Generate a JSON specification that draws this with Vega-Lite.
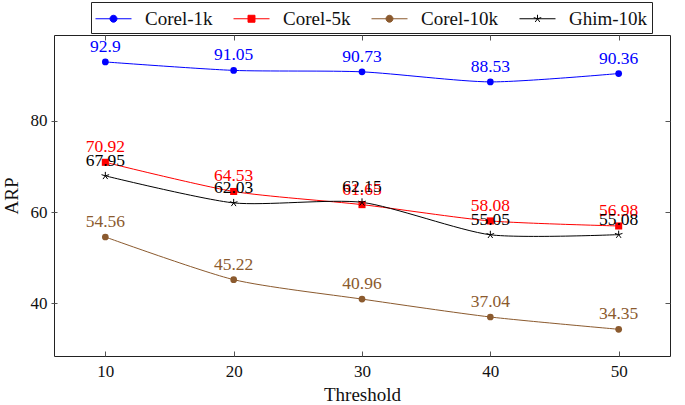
{
  "$schema": "https://vega.github.io/schema/vega-lite/v6.json",
  "width": 616,
  "height": 321,
  "autosize": "none",
  "padding": {"left": 54, "top": 35, "right": 15, "bottom": 49},
  "background": "white",
  "config": {
    "view": {"stroke": "#222", "strokeWidth": 1},
    "font": "Liberation Serif",
    "text": {"font": "Liberation Serif"},
    "legend": {"labelFont": "Liberation Serif"},
    "axis": {"labelFont": "Liberation Serif", "titleFont": "Liberation Serif", "labelFontSize": 17, "titleFontSize": 19, "titleFontWeight": "normal", "labelColor": "#111", "titleColor": "#111", "grid": false, "domain": false, "tickColor": "#555", "tickWidth": 1}
  },
  "data": {
    "values": [
      {"threshold": 10, "series": "Corel-1k", "arp": 92.9},
      {"threshold": 20, "series": "Corel-1k", "arp": 91.05},
      {"threshold": 30, "series": "Corel-1k", "arp": 90.73},
      {"threshold": 40, "series": "Corel-1k", "arp": 88.53},
      {"threshold": 50, "series": "Corel-1k", "arp": 90.36},
      {"threshold": 10, "series": "Corel-5k", "arp": 70.92},
      {"threshold": 20, "series": "Corel-5k", "arp": 64.53},
      {"threshold": 30, "series": "Corel-5k", "arp": 61.65},
      {"threshold": 40, "series": "Corel-5k", "arp": 58.08},
      {"threshold": 50, "series": "Corel-5k", "arp": 56.98},
      {"threshold": 10, "series": "Corel-10k", "arp": 54.56},
      {"threshold": 20, "series": "Corel-10k", "arp": 45.22},
      {"threshold": 30, "series": "Corel-10k", "arp": 40.96},
      {"threshold": 40, "series": "Corel-10k", "arp": 37.04},
      {"threshold": 50, "series": "Corel-10k", "arp": 34.35},
      {"threshold": 10, "series": "Ghim-10k", "arp": 67.95},
      {"threshold": 20, "series": "Ghim-10k", "arp": 62.03},
      {"threshold": 30, "series": "Ghim-10k", "arp": 62.15},
      {"threshold": 40, "series": "Ghim-10k", "arp": 55.05},
      {"threshold": 50, "series": "Ghim-10k", "arp": 55.08}
    ]
  },
  "resolve": {"axis": {"x": "independent", "y": "independent"}},
  "layer": [
    {
      "mark": {"type": "line", "interpolate": "cardinal", "tension": 0.3, "strokeWidth": 1},
      "encoding": {
        "x": {"field": "threshold", "type": "quantitative", "scale": {"domain": [6, 54], "nice": false, "zero": false},
              "axis": {"orient": "bottom", "title": "Threshold", "values": [10, 20, 30, 40, 50], "tickSize": -5, "labelPadding": 12, "titlePadding": 6}},
        "y": {"field": "arp", "type": "quantitative", "scale": {"domain": [28.5, 98.8], "nice": false, "zero": false},
              "axis": {"orient": "left", "title": "ARP", "values": [40, 60, 80], "tickSize": 3, "labelPadding": 4, "titlePadding": 9}},
        "color": {"field": "series", "type": "nominal",
                  "scale": {"domain": ["Corel-1k", "Corel-5k", "Corel-10k", "Ghim-10k"], "range": ["#0000ff", "#ff0000", "#8b5a2e", "#000000"]},
                  "legend": {"title": null, "orient": "none", "legendX": 37, "legendY": -33, "direction": "horizontal", "columns": 4,
                             "strokeColor": "#222", "padding": 4, "fillColor": "white", "symbolSize": 576, "labelOffset": 19, "symbolOffset": 6,
                             "columnPadding": 18, "labelFont": "Liberation Serif", "labelFontSize": 19, "labelColor": "#111",
                             "symbolStrokeWidth": 1,
                             "encode": {"symbols": {"update": {
                               "shape": {"signal": "datum.value === 'Corel-5k' ? 'M-1.5,0H1.5M-0.29,-0.29H0.29V0.29H-0.29Z' : datum.value === 'Ghim-10k' ? 'M-1.5,0H1.5M0,0V-0.33M0,0L-0.31,-0.1M0,0L-0.19,0.27M0,0L0.19,0.27M0,0L0.31,-0.1' : 'M-1.5,0H1.5M0.29,0A0.29,0.29,0,1,1,-0.29,0A0.29,0.29,0,1,1,0.29,0Z'"},
                               "stroke": {"signal": "scale('color', datum.value)"},
                               "fill": {"signal": "datum.value === 'Ghim-10k' ? 'transparent' : scale('color', datum.value)"},
                               "strokeWidth": {"value": 1},
                               "opacity": {"value": 1}
                             }}}}},
        "detail": {"field": "series"}
      }
    },
    {
      "transform": [{"filter": "datum.series === 'Corel-1k' || datum.series === 'Corel-10k'"}],
      "mark": {"type": "point", "shape": "circle", "filled": true, "opacity": 1, "size": 45},
      "encoding": {
        "x": {"field": "threshold", "type": "quantitative", "axis": null},
        "y": {"field": "arp", "type": "quantitative", "axis": null},
        "color": {"field": "series", "type": "nominal"}
      }
    },
    {
      "transform": [{"filter": "datum.series === 'Corel-5k'"}],
      "mark": {"type": "point", "shape": "square", "filled": true, "opacity": 1, "size": 50},
      "encoding": {
        "x": {"field": "threshold", "type": "quantitative",
              "axis": {"orient": "top", "labels": false, "title": null, "values": [10, 20, 30, 40, 50], "tickSize": -5}},
        "y": {"field": "arp", "type": "quantitative",
              "axis": {"orient": "right", "labels": false, "title": null, "values": [40, 60, 80], "tickSize": -5}},
        "color": {"field": "series", "type": "nominal"}
      }
    },
    {
      "transform": [{"filter": "datum.series === 'Ghim-10k'"}],
      "mark": {"type": "point", "shape": "M0,0V-1M0,0L-0.95,-0.31M0,0L-0.59,0.81M0,0L0.59,0.81M0,0L0.95,-0.31", "filled": false, "opacity": 1, "size": 64, "strokeWidth": 1},
      "encoding": {
        "x": {"field": "threshold", "type": "quantitative", "axis": null},
        "y": {"field": "arp", "type": "quantitative",
              "axis": {"orient": "left", "labels": false, "title": null, "values": [40, 60, 80], "tickSize": -3}},
        "color": {"field": "series", "type": "nominal"}
      }
    },
    {
      "mark": {"type": "text", "baseline": "alphabetic", "dy": -10, "font": "Liberation Serif", "fontSize": 17.5},
      "encoding": {
        "x": {"field": "threshold", "type": "quantitative", "axis": null},
        "y": {"field": "arp", "type": "quantitative", "axis": null},
        "color": {"field": "series", "type": "nominal"},
        "text": {"field": "arp", "type": "nominal"}
      }
    }
  ]
}
